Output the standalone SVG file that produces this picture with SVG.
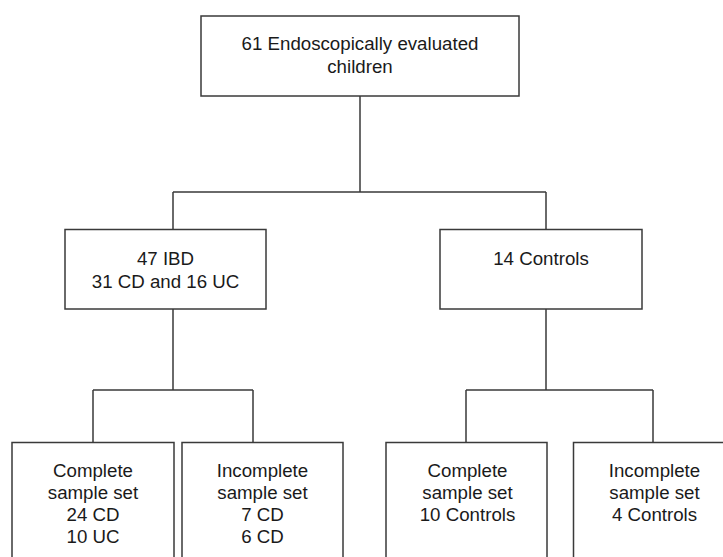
<svg xmlns="http://www.w3.org/2000/svg" width="723" height="557" viewBox="0 0 723 557">
<style>
.box{fill:#ffffff;stroke:#3a3a3a;stroke-width:1.5}
.conn{fill:none;stroke:#3a3a3a;stroke-width:1.5}
text{font-family:"Liberation Sans",Arial,sans-serif;font-size:18.7px;fill:#1a1a1a;text-anchor:middle}
</style>
<rect width="723" height="557" fill="#ffffff"/>
<g id="connectors">
<path class="conn" d="M360,96 V192 M173,192 H546 M173,192 V229.5 M546,192 V229.5"/>
<path class="conn" d="M173,309 V390 M93,390 H253 M93,390 V442.5 M253,390 V442.5"/>
<path class="conn" d="M546,309 V390 M466,390 H653 M466,390 V442.5 M653,390 V442.5"/>
</g>
<g id="root">
<rect class="box" x="201" y="16" width="318" height="80"/>
<text x="360" y="50">61 Endoscopically evaluated</text>
<text x="360" y="73">children</text>
</g>
<g id="ibd">
<rect class="box" x="65" y="229.5" width="201" height="79.5"/>
<text x="165.5" y="264.5">47 IBD</text>
<text x="165.5" y="287.5">31 CD and 16 UC</text>
</g>
<g id="controls">
<rect class="box" x="440" y="229.5" width="202" height="79.5"/>
<text x="541" y="264.5">14 Controls</text>
</g>
<g id="ibd-complete">
<rect class="box" x="12" y="442.5" width="162" height="130"/>
<text x="93" y="476.5">Complete</text>
<text x="93" y="498.5">sample set</text>
<text x="93" y="520.5">24 CD</text>
<text x="93" y="542.5">10 UC</text>
</g>
<g id="ibd-incomplete">
<rect class="box" x="182" y="442.5" width="161" height="130"/>
<text x="262.5" y="476.5">Incomplete</text>
<text x="262.5" y="498.5">sample set</text>
<text x="262.5" y="520.5">7 CD</text>
<text x="262.5" y="542.5">6 CD</text>
</g>
<g id="controls-complete">
<rect class="box" x="386" y="442.5" width="161" height="130"/>
<text x="467.5" y="476.5">Complete</text>
<text x="467.5" y="498.5">sample set</text>
<text x="467.5" y="520.5">10 Controls</text>
</g>
<g id="controls-incomplete">
<rect class="box" x="573.5" y="442.5" width="162" height="130"/>
<text x="654.5" y="476.5">Incomplete</text>
<text x="654.5" y="498.5">sample set</text>
<text x="654.5" y="520.5">4 Controls</text>
</g>
</svg>
